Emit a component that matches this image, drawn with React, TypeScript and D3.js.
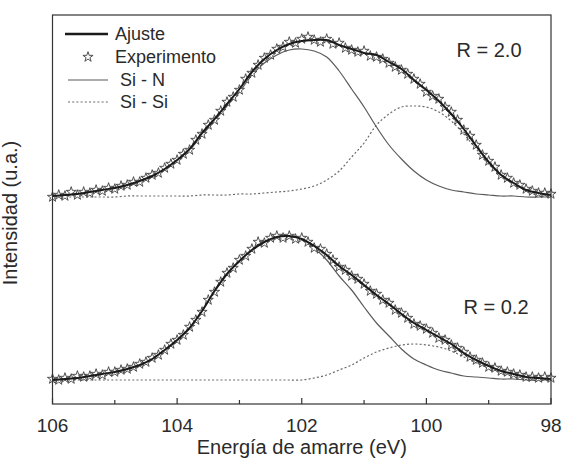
import React from 'react';
import * as d3 from 'd3';

// Binding energy grid of the fitted curves (eV)
const fitEnergy = [106.0, 105.8, 105.6, 105.4, 105.2, 105.0, 104.8, 104.6, 104.4, 104.2, 104.0, 103.8, 103.6, 103.4, 103.2, 103.0, 102.8, 102.6, 102.4, 102.2, 102.0, 101.8, 101.6, 101.4, 101.2, 101.0, 100.8, 100.6, 100.4, 100.2, 100.0, 99.8, 99.6, 99.4, 99.2, 99.0, 98.8, 98.6, 98.4, 98.2, 98.0];

// Binding energy of the measured points (eV)
const expEnergy = [106.0, 105.9, 105.8, 105.7, 105.6, 105.5, 105.4, 105.3, 105.2, 105.1, 105.0, 104.9, 104.8, 104.7, 104.6, 104.5, 104.4, 104.3, 104.2, 104.1, 104.0, 103.9, 103.8, 103.7, 103.6, 103.5, 103.4, 103.3, 103.2, 103.1, 103.0, 102.9, 102.8, 102.7, 102.6, 102.5, 102.4, 102.3, 102.2, 102.1, 102.0, 101.9, 101.8, 101.7, 101.6, 101.5, 101.4, 101.3, 101.2, 101.1, 101.0, 100.9, 100.8, 100.7, 100.6, 100.5, 100.4, 100.3, 100.2, 100.1, 100.0, 99.9, 99.8, 99.7, 99.6, 99.5, 99.4, 99.3, 99.2, 99.1, 99.0, 98.9, 98.8, 98.7, 98.6, 98.5, 98.4, 98.3, 98.2, 98.1, 98.0];

// R = 2.0 (upper spectrum)
const topFit = [0.01, 0.02, 0.03, 0.05, 0.07, 0.09, 0.12, 0.16, 0.21, 0.28, 0.37, 0.48, 0.64, 0.78, 0.93, 1.08, 1.25, 1.38, 1.47, 1.53, 1.56, 1.57, 1.57, 1.52, 1.48, 1.44, 1.42, 1.35, 1.28, 1.17, 1.07, 0.96, 0.83, 0.68, 0.51, 0.35, 0.22, 0.14, 0.07, 0.04, 0.02];
const topSiN = [0.01, 0.02, 0.03, 0.05, 0.07, 0.09, 0.11, 0.15, 0.20, 0.27, 0.36, 0.47, 0.62, 0.76, 0.91, 1.05, 1.22, 1.34, 1.42, 1.47, 1.48, 1.46, 1.40, 1.26, 1.08, 0.90, 0.70, 0.52, 0.38, 0.26, 0.17, 0.11, 0.07, 0.05, 0.03, 0.02, 0.01, 0.01, 0.0, 0.0, 0.0];
const topSiSi = [0.0, 0.0, 0.0, 0.0, 0.0, 0.0, 0.01, 0.01, 0.01, 0.01, 0.01, 0.01, 0.02, 0.02, 0.02, 0.03, 0.03, 0.04, 0.05, 0.06, 0.08, 0.11, 0.17, 0.26, 0.40, 0.54, 0.72, 0.83, 0.90, 0.91, 0.90, 0.85, 0.76, 0.63, 0.48, 0.33, 0.21, 0.13, 0.07, 0.04, 0.02];
const topExp = [0.00, 0.02, 0.01, 0.05, 0.02, 0.05, 0.04, 0.07, 0.06, 0.09, 0.08, 0.11, 0.12, 0.15, 0.15, 0.19, 0.22, 0.24, 0.29, 0.33, 0.37, 0.43, 0.47, 0.57, 0.63, 0.72, 0.77, 0.86, 0.95, 1.00, 1.07, 1.18, 1.24, 1.32, 1.39, 1.42, 1.48, 1.50, 1.55, 1.54, 1.58, 1.60, 1.57, 1.55, 1.58, 1.53, 1.54, 1.49, 1.47, 1.45, 1.46, 1.41, 1.40, 1.38, 1.34, 1.30, 1.27, 1.23, 1.18, 1.13, 1.05, 1.01, 0.98, 0.90, 0.85, 0.77, 0.67, 0.61, 0.52, 0.42, 0.36, 0.30, 0.22, 0.19, 0.14, 0.12, 0.08, 0.06, 0.04, 0.04, 0.03];

// R = 0.2 (lower spectrum)
const botFit = [0.00, 0.01, 0.02, 0.04, 0.06, 0.08, 0.11, 0.15, 0.21, 0.30, 0.40, 0.52, 0.69, 0.89, 1.06, 1.19, 1.30, 1.38, 1.43, 1.44, 1.41, 1.34, 1.25, 1.14, 1.05, 0.95, 0.85, 0.76, 0.66, 0.57, 0.50, 0.43, 0.36, 0.27, 0.20, 0.14, 0.09, 0.06, 0.03, 0.02, 0.01];
const botSiN = [0.00, 0.01, 0.02, 0.04, 0.06, 0.08, 0.11, 0.15, 0.21, 0.30, 0.40, 0.52, 0.69, 0.89, 1.06, 1.19, 1.30, 1.38, 1.43, 1.44, 1.41, 1.32, 1.20, 1.04, 0.90, 0.73, 0.57, 0.44, 0.31, 0.21, 0.15, 0.10, 0.07, 0.04, 0.03, 0.02, 0.01, 0.01, 0.0, 0.0, 0.0];
const botSiSi = [0.0, 0.0, 0.0, 0.0, 0.0, 0.0, 0.0, 0.0, 0.0, 0.0, 0.0, 0.0, 0.0, 0.0, 0.0, 0.0, 0.0, 0.0, 0.0, 0.0, 0.0, 0.02, 0.05, 0.10, 0.15, 0.22, 0.28, 0.32, 0.35, 0.36, 0.35, 0.33, 0.29, 0.23, 0.17, 0.12, 0.08, 0.05, 0.03, 0.02, 0.01];
const botExp = [0.01, 0.00, 0.02, 0.01, 0.04, 0.03, 0.04, 0.06, 0.05, 0.08, 0.08, 0.10, 0.11, 0.13, 0.16, 0.18, 0.22, 0.25, 0.30, 0.36, 0.40, 0.45, 0.53, 0.60, 0.68, 0.80, 0.88, 0.98, 1.07, 1.12, 1.20, 1.24, 1.31, 1.38, 1.37, 1.42, 1.44, 1.42, 1.44, 1.41, 1.42, 1.38, 1.32, 1.31, 1.26, 1.20, 1.13, 1.10, 1.04, 1.01, 0.96, 0.89, 0.86, 0.80, 0.77, 0.70, 0.67, 0.62, 0.56, 0.54, 0.51, 0.47, 0.42, 0.40, 0.35, 0.32, 0.28, 0.23, 0.20, 0.17, 0.13, 0.12, 0.09, 0.08, 0.06, 0.05, 0.03, 0.03, 0.02, 0.03, 0.02];

const panelOffsets = [1.83, 0];
const panelLabels = ['R = 2.0', 'R = 0.2'];
const majorTicks = [106, 104, 102, 100, 98];
const minorTicks = [105, 103, 101, 99];
const legendLabels = ['Ajuste', 'Experimento', ' Si - N', ' Si - Si'];

const W = 564;
const H = 459;
const L = 52.5, R = 551, T = 15, B = 404;
const FONT = '"Liberation Sans", Arial, Helvetica, sans-serif';
const INK = '#1a1a1a';

export default function App() {
  const x = d3.scaleLinear().domain([106, 98]).range([L, R]);
  const y = d3.scaleLinear().domain([-0.24, 3.65]).range([B, T]);

  const mkLine = (vals: number[], off: number) =>
    d3
      .line<number>()
      .x((_, i) => x(fitEnergy[i]))
      .y((d) => y(d + off))
      .curve(d3.curveCatmullRom.alpha(0.5))(vals) || '';

  const star = d3.symbol().type(d3.symbolStar).size(32)() || '';

  const panels = [
    { fit: topFit, siN: topSiN, siSi: topSiSi, exp: topExp },
    { fit: botFit, siN: botSiN, siSi: botSiSi, exp: botExp },
  ];

  const labelPos = [
    { x: 489, y: 57 },
    { x: 496, y: 314 },
  ];

  return (
    <svg
      width={W}
      height={H}
      style={{ position: 'absolute', left: 0, top: 0, background: '#fff' }}
      fontFamily={FONT}
    >
      <rect x={0} y={0} width={W} height={H} fill="#fff" />
      {panels.map((p, k) => {
        const off = panelOffsets[k];
        return (
          <g key={k}>
            <path d={mkLine(p.siSi, off)} fill="none" stroke="#6a6a6a" strokeWidth={1.2} strokeDasharray="2,2.2" />
            <path d={mkLine(p.siN, off)} fill="none" stroke="#5a5a5a" strokeWidth={1.2} />
            {p.exp.map((v, i) => (
              <path
                key={i}
                d={star}
                transform={`translate(${x(expEnergy[i])},${y(v + off)})`}
                fill="#fff"
                stroke="#404040"
                strokeWidth={0.9}
              />
            ))}
            <path d={mkLine(p.fit, off)} fill="none" stroke={INK} strokeWidth={2} />
            <text
              x={labelPos[k].x}
              y={labelPos[k].y}
              fontSize={20}
              textAnchor="middle"
              fill="#2a2a2a"
            >
              {panelLabels[k]}
            </text>
          </g>
        );
      })}

      {/* frame */}
      <rect x={L} y={T} width={R - L} height={B - T} fill="none" stroke="#333" strokeWidth={1.2} />

      {/* x ticks */}
      {majorTicks.map((t) => (
        <g key={'M' + t}>
          <line x1={x(t)} x2={x(t)} y1={B} y2={B - 6} stroke="#333" strokeWidth={1.2} />
          <text x={x(t)} y={432} fontSize={19} textAnchor="middle" fill="#2a2a2a">
            {t}
          </text>
        </g>
      ))}
      {minorTicks.map((t) => (
        <line key={'m' + t} x1={x(t)} x2={x(t)} y1={B} y2={B - 4} stroke="#333" strokeWidth={1.2} />
      ))}

      <text x={(L + R) / 2} y={454} fontSize={20} textAnchor="middle" fill="#2a2a2a">
        Energía de amarre (eV)
      </text>
      <text
        transform={`translate(17,213) rotate(-90)`}
        fontSize={20}
        textAnchor="middle"
        fill="#2a2a2a"
      >
        Intensidad (u.a.)
      </text>

      {/* legend */}
      <g>
        <line x1={65} x2={108} y1={34} y2={34} stroke={INK} strokeWidth={2.4} />
        <text x={115} y={40} fontSize={18} fill="#2a2a2a">{legendLabels[0]}</text>
        <path d={star} transform="translate(88,57)" fill="#fff" stroke="#404040" strokeWidth={0.9} />
        <text x={115} y={63} fontSize={18} fill="#2a2a2a">{legendLabels[1]}</text>
        <line x1={68} x2={108} y1={80} y2={80} stroke="#5a5a5a" strokeWidth={1.2} />
        <text x={115} y={86} fontSize={18} fill="#2a2a2a" style={{ whiteSpace: 'pre' }}>{legendLabels[2]}</text>
        <line x1={68} x2={108} y1={102} y2={102} stroke="#6a6a6a" strokeWidth={1.2} strokeDasharray="2,2.2" />
        <text x={115} y={108} fontSize={18} fill="#2a2a2a" style={{ whiteSpace: 'pre' }}>{legendLabels[3]}</text>
      </g>
    </svg>
  );
}
